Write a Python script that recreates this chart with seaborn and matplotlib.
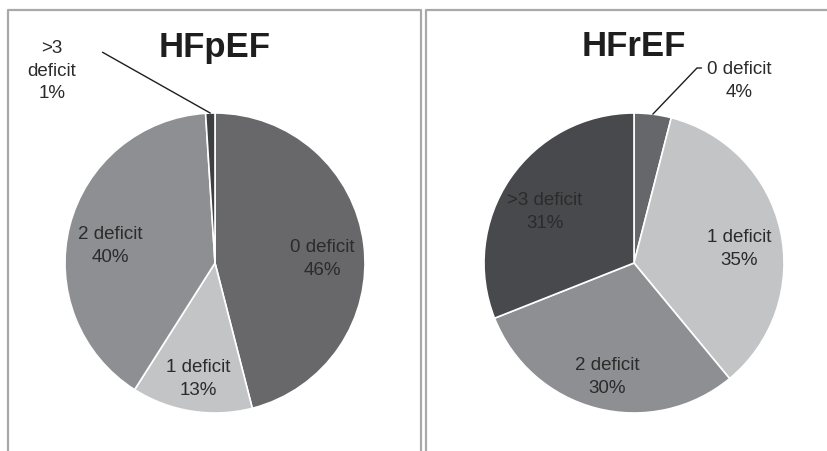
import matplotlib
matplotlib.use("Agg")
import numpy as np
import matplotlib.pyplot as plt
import seaborn as sns
from matplotlib.lines import Line2D

# -----------------------------
# DATA
# -----------------------------
categories_pef = ["0 deficit", "1 deficit", "2 deficit", ">3 deficit"]
values_pef = [46, 13, 40, 1]

categories_ref = ["0 deficit", "1 deficit", "2 deficit", ">3 deficit"]
values_ref = [4, 35, 30, 31]

colors_pef = ["#68686b", "#c3c4c6", "#8e8f93", "#3e3f42"]
colors_ref = ["#66676a", "#c3c4c6", "#8e8f93", "#48494c"]

# -----------------------------
# STYLE
# -----------------------------
sns.set_theme(style="white")
plt.rcParams["font.family"] = ["Liberation Sans", "DejaVu Sans"]

W, H = 827, 451
LABEL_FS = 13.5
LS = 1.45
fig = plt.figure(figsize=(W / 100, H / 100), dpi=100)
fig.patch.set_facecolor("white")

# panel frames (open at the bottom)
frame_kw = dict(color="#a9a9a9", lw=1.6, transform=fig.transFigure)
def px(x, y):
    return x / W, 1 - y / H
for xs, ys in [([8, 8, 421, 421], [451, 10, 10, 451]),
               ([426, 426, 830], [451, 10, 10])]:
    pts = [px(x, y) for x, y in zip(xs, ys)]
    fig.add_artist(Line2D([p[0] for p in pts], [p[1] for p in pts], **frame_kw))


def draw_pie(cx, title, cats, vals, cols, inside_r=0.72):
    r = 150
    ax = fig.add_axes([(cx - r) / W, (H - 263 - r) / H, 2 * r / W, 2 * r / H])
    labels_iter = iter(cats)

    def fmt(p):
        name = next(labels_iter)
        return f"{name}\n{p:.0f}%" if p >= 5 else ""

    wedges, _, autotexts = ax.pie(
        vals, colors=cols, startangle=90, counterclock=False,
        autopct=fmt, pctdistance=inside_r,
        wedgeprops=dict(edgecolor="white", linewidth=1.2),
        textprops=dict(fontsize=LABEL_FS, color="#2b2b2b", linespacing=LS),
    )
    # labels sit a little below the wedge centroid in the original
    for t in autotexts:
        x, y = t.get_position()
        t.set_position((x, y - 0.065))
    ax.set_xlim(-1, 1)
    ax.set_ylim(-1, 1)
    ax.set_aspect("auto")
    ax.axis("off")
    ax.text(0, 1.44, title, ha="center", va="center", fontsize=25,
            fontweight="bold", color="#1e1e1e")
    return ax, wedges


# HFpEF
ax1, w1 = draw_pie(215, "HFpEF", categories_pef, values_pef, colors_pef)
small = w1[3]
ang = np.deg2rad((small.theta1 + small.theta2) / 2)
p0 = (np.cos(ang), np.sin(ang))
ax1.plot([p0[0], -0.75], [p0[1], 1.405], color="#1e1e1e", lw=1, clip_on=False)
ax1.text(-1.087, 1.28, ">3\ndeficit\n1%", ha="center", va="center",
         fontsize=LABEL_FS, color="#2b2b2b", linespacing=LS)

# HFrEF
ax2, w2 = draw_pie(634, "HFrEF", categories_ref, values_ref, colors_ref)
small = w2[0]
ang = np.deg2rad((small.theta1 + small.theta2) / 2)
p0 = (np.cos(ang), np.sin(ang))
ax2.plot([p0[0], 0.42, 0.45], [p0[1], 1.30, 1.30], color="#1e1e1e", lw=1,
         clip_on=False)
ax2.text(0.70, 1.215, "0 deficit\n4%", ha="center", va="center",
         fontsize=LABEL_FS, color="#2b2b2b", linespacing=LS)

plt.savefig("out.png", dpi=100)
